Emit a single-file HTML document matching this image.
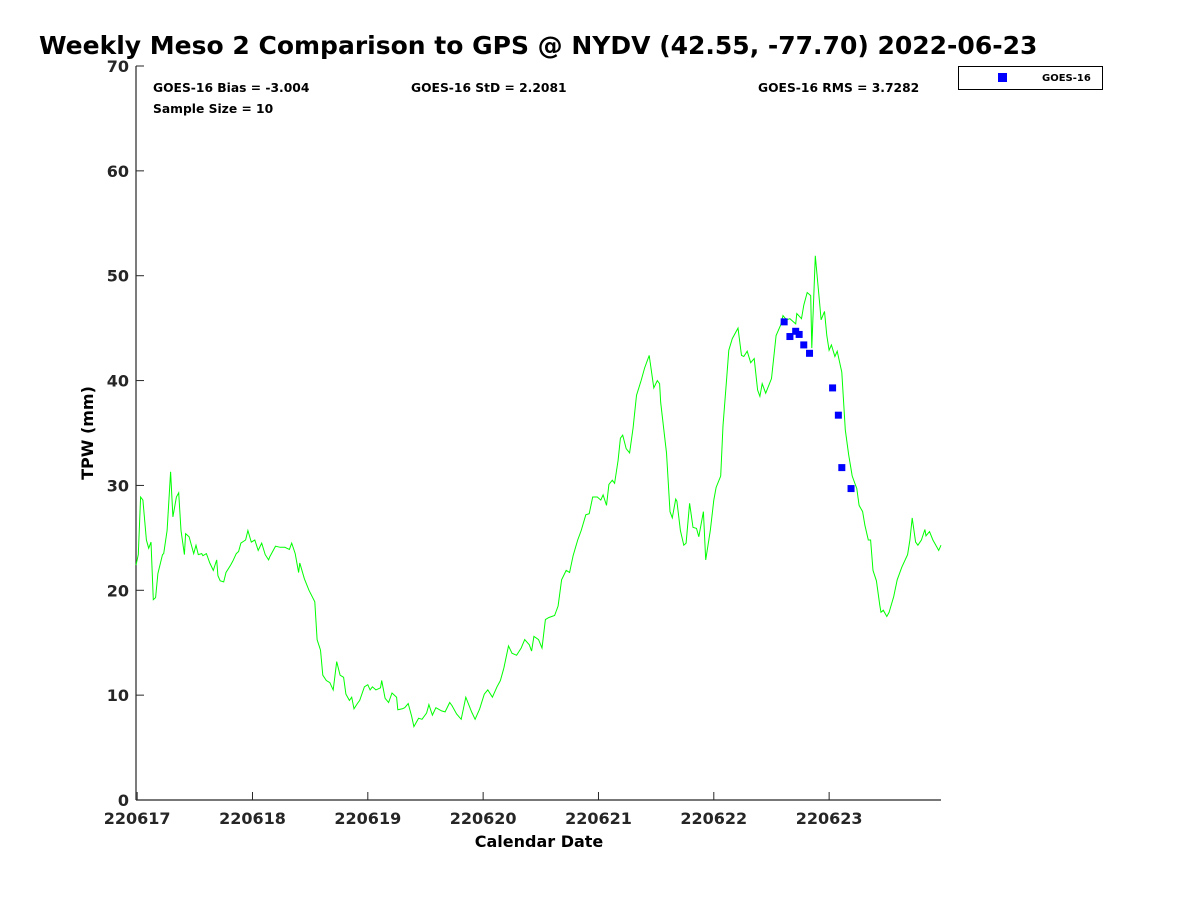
<!DOCTYPE html>
<html><head><meta charset="utf-8"><style>
body{margin:0;background:#fff;width:1200px;height:900px;overflow:hidden;font-family:"Liberation Sans","DejaVu Sans",sans-serif}
svg text{font-family:"DejaVu Sans","Liberation Sans",sans-serif;font-weight:bold}
</style></head><body>
<svg id="chart" width="1200" height="900">
<text x="39" y="54" font-size="25">Weekly Meso 2 Comparison to GPS @ NYDV (42.55, -77.70) 2022-06-23</text>
<g id="axes"></g>
<g id="series"></g>
<text x="153" y="92" font-size="12.3">GOES-16 Bias = -3.004</text>
<text x="153" y="113" font-size="12.3">Sample Size = 10</text>
<text x="411" y="92" font-size="12.3">GOES-16 StD = 2.2081</text>
<text x="758" y="92" font-size="12.3">GOES-16 RMS = 3.7282</text>
<g>
<rect x="958.5" y="66.5" width="144" height="23" fill="#fff" stroke="#000" stroke-width="1"/>
<rect x="998" y="73" width="9" height="9" fill="#0000ff"/>
<text x="1042" y="81" font-size="10">GOES-16</text>
</g>
<text x="539" y="847" font-size="16" text-anchor="middle">Calendar Date</text>
<text transform="translate(93,433) rotate(-90)" font-size="16" text-anchor="middle">TPW (mm)</text>
</svg>
<script>
const gpsDays=[-0.01,0.01,0.03,0.05,0.08,0.10,0.12,0.14,0.16,0.18,0.22,0.23,0.26,0.29,0.31,0.34,0.36,0.38,0.41,0.42,0.45,0.49,0.51,0.53,0.56,0.57,0.60,0.63,0.66,0.69,0.70,0.72,0.75,0.77,0.81,0.83,0.86,0.88,0.90,0.94,0.96,0.99,1.02,1.05,1.08,1.11,1.14,1.15,1.20,1.24,1.28,1.32,1.34,1.37,1.40,1.41,1.45,1.49,1.54,1.56,1.59,1.61,1.64,1.67,1.70,1.73,1.76,1.79,1.81,1.84,1.86,1.88,1.91,1.93,1.97,2.00,2.02,2.04,2.07,2.11,2.12,2.15,2.18,2.21,2.25,2.26,2.30,2.32,2.35,2.38,2.40,2.44,2.47,2.51,2.53,2.56,2.59,2.64,2.67,2.71,2.73,2.77,2.81,2.85,2.90,2.93,2.97,3.01,3.04,3.08,3.12,3.15,3.18,3.22,3.25,3.29,3.33,3.36,3.40,3.42,3.44,3.48,3.51,3.54,3.57,3.62,3.65,3.68,3.72,3.75,3.78,3.82,3.85,3.89,3.92,3.95,3.99,4.02,4.04,4.07,4.09,4.12,4.14,4.17,4.19,4.21,4.24,4.27,4.30,4.33,4.37,4.40,4.44,4.48,4.51,4.53,4.54,4.59,4.62,4.64,4.67,4.68,4.71,4.74,4.76,4.79,4.82,4.85,4.87,4.91,4.93,4.97,5.00,5.02,5.06,5.08,5.11,5.13,5.16,5.21,5.24,5.26,5.29,5.32,5.35,5.38,5.40,5.42,5.45,5.50,5.54,5.58,5.60,5.63,5.66,5.71,5.72,5.76,5.78,5.81,5.84,5.85,5.88,5.92,5.93,5.96,5.98,6.00,6.02,6.05,6.07,6.11,6.14,6.17,6.20,6.24,6.26,6.29,6.31,6.34,6.36,6.38,6.41,6.44,6.45,6.47,6.50,6.52,6.56,6.59,6.63,6.68,6.70,6.72,6.75,6.77,6.80,6.83,6.84,6.87,6.90,6.95,6.97];
const gpsTpw=[22.4,23.4,28.9,28.6,24.8,24.0,24.6,19.1,19.3,21.6,23.4,23.5,25.7,31.3,27.0,28.9,29.3,25.7,23.4,25.4,25.1,23.5,24.3,23.4,23.5,23.3,23.5,22.6,21.9,22.9,21.4,20.9,20.8,21.7,22.4,22.8,23.5,23.7,24.5,24.8,25.7,24.6,24.8,23.8,24.5,23.4,22.9,23.2,24.2,24.1,24.1,23.9,24.5,23.5,21.7,22.6,21.1,20.0,18.9,15.3,14.3,11.9,11.4,11.2,10.5,13.2,11.9,11.7,10.1,9.5,9.8,8.7,9.2,9.5,10.8,11.0,10.5,10.8,10.5,10.7,11.4,9.7,9.3,10.2,9.8,8.6,8.7,8.8,9.2,8.0,7.0,7.8,7.7,8.3,9.1,8.1,8.8,8.5,8.4,9.3,9.0,8.2,7.7,9.8,8.4,7.7,8.7,10.1,10.5,9.8,10.8,11.4,12.6,14.7,14.0,13.8,14.5,15.3,14.8,14.2,15.6,15.3,14.5,17.2,17.4,17.6,18.5,21.0,21.9,21.7,23.3,24.8,25.7,27.2,27.3,28.9,28.9,28.6,29.1,28.1,30.1,30.5,30.2,32.4,34.5,34.8,33.5,33.1,35.5,38.6,40.0,41.2,42.4,39.3,40.0,39.7,37.9,33.1,27.5,26.9,28.7,28.5,25.7,24.3,24.5,28.3,26.0,25.9,25.1,27.5,22.9,25.7,28.6,29.8,30.9,35.7,40.0,42.9,44.0,45.0,42.4,42.3,42.8,41.7,42.1,39.1,38.5,39.7,38.8,40.2,44.3,45.3,46.2,45.8,45.9,45.4,46.4,45.9,47.2,48.4,48.1,43.1,51.9,47.1,45.8,46.6,44.3,42.9,43.4,42.3,42.8,40.8,35.3,32.9,30.9,29.7,28.1,27.5,26.2,24.8,24.8,21.9,20.9,18.5,17.9,18.1,17.5,17.9,19.4,21.0,22.2,23.4,24.8,26.9,24.6,24.3,24.8,25.8,25.2,25.6,24.8,23.8,24.3];
const goesDays=[5.61,5.66,5.71,5.74,5.78,5.83,6.03,6.08,6.11,6.19];
const goesTpw=[45.6,44.2,44.7,44.4,43.4,42.6,39.3,36.7,31.7,29.7];
const xTickLabels=["220617","220618","220619","220620","220621","220622","220623"];
const yTicks=[0,10,20,30,40,50,60,70];

const NS="http://www.w3.org/2000/svg";
const L=136,R=941,T=66,B=800,X0=-0.01,X1=6.97,Y0=0,Y1=70;
const xs=d=>L+(d-X0)/(X1-X0)*(R-L);
const ys=v=>B-(v-Y0)/(Y1-Y0)*(B-T);
function mk(tag,attrs,parent){const e=document.createElementNS(NS,tag);for(const k in attrs)e.setAttribute(k,attrs[k]);parent.appendChild(e);return e;}
const axes=document.getElementById('axes'),series=document.getElementById('series');
let a=mk('line',{x1:L,y1:T,x2:L,y2:B,stroke:'#262626','stroke-width':1.2},axes);


a=mk('line',{x1:L,y1:B,x2:R,y2:B,stroke:'#262626','stroke-width':1.2},axes);


yTicks.forEach(v=>{
 const y=ys(v);
 mk('line',{x1:L,y1:y,x2:L+8,y2:y,stroke:'#262626'},axes);
 const t=mk('text',{x:L-7,y:y+6,'text-anchor':'end','font-size':16,fill:'#262626'},axes);
 t.textContent=v;
 
 
});
xTickLabels.forEach((lab,i)=>{
 const x=xs(i);
 mk('line',{x1:x,y1:B,x2:x,y2:B-8,stroke:'#262626'},axes);
 const t=mk('text',{x:x,y:B+24,'text-anchor':'middle','font-size':16,fill:'#262626'},axes);
 t.textContent=lab;
 
 
});
const pts=gpsDays.map((d,i)=>xs(d).toFixed(1)+','+ys(gpsTpw[i]).toFixed(1)).join(' ');
const pl=mk('polyline',{points:pts,fill:'none',stroke:'#00ff00','stroke-width':1},series);


goesDays.forEach((d,i)=>{
 const r=mk('rect',{x:xs(d)-3.5,y:ys(goesTpw[i])-3.5,width:7,height:7,fill:'#0000ff'},series);
 
 
});
</script>
</body></html>
